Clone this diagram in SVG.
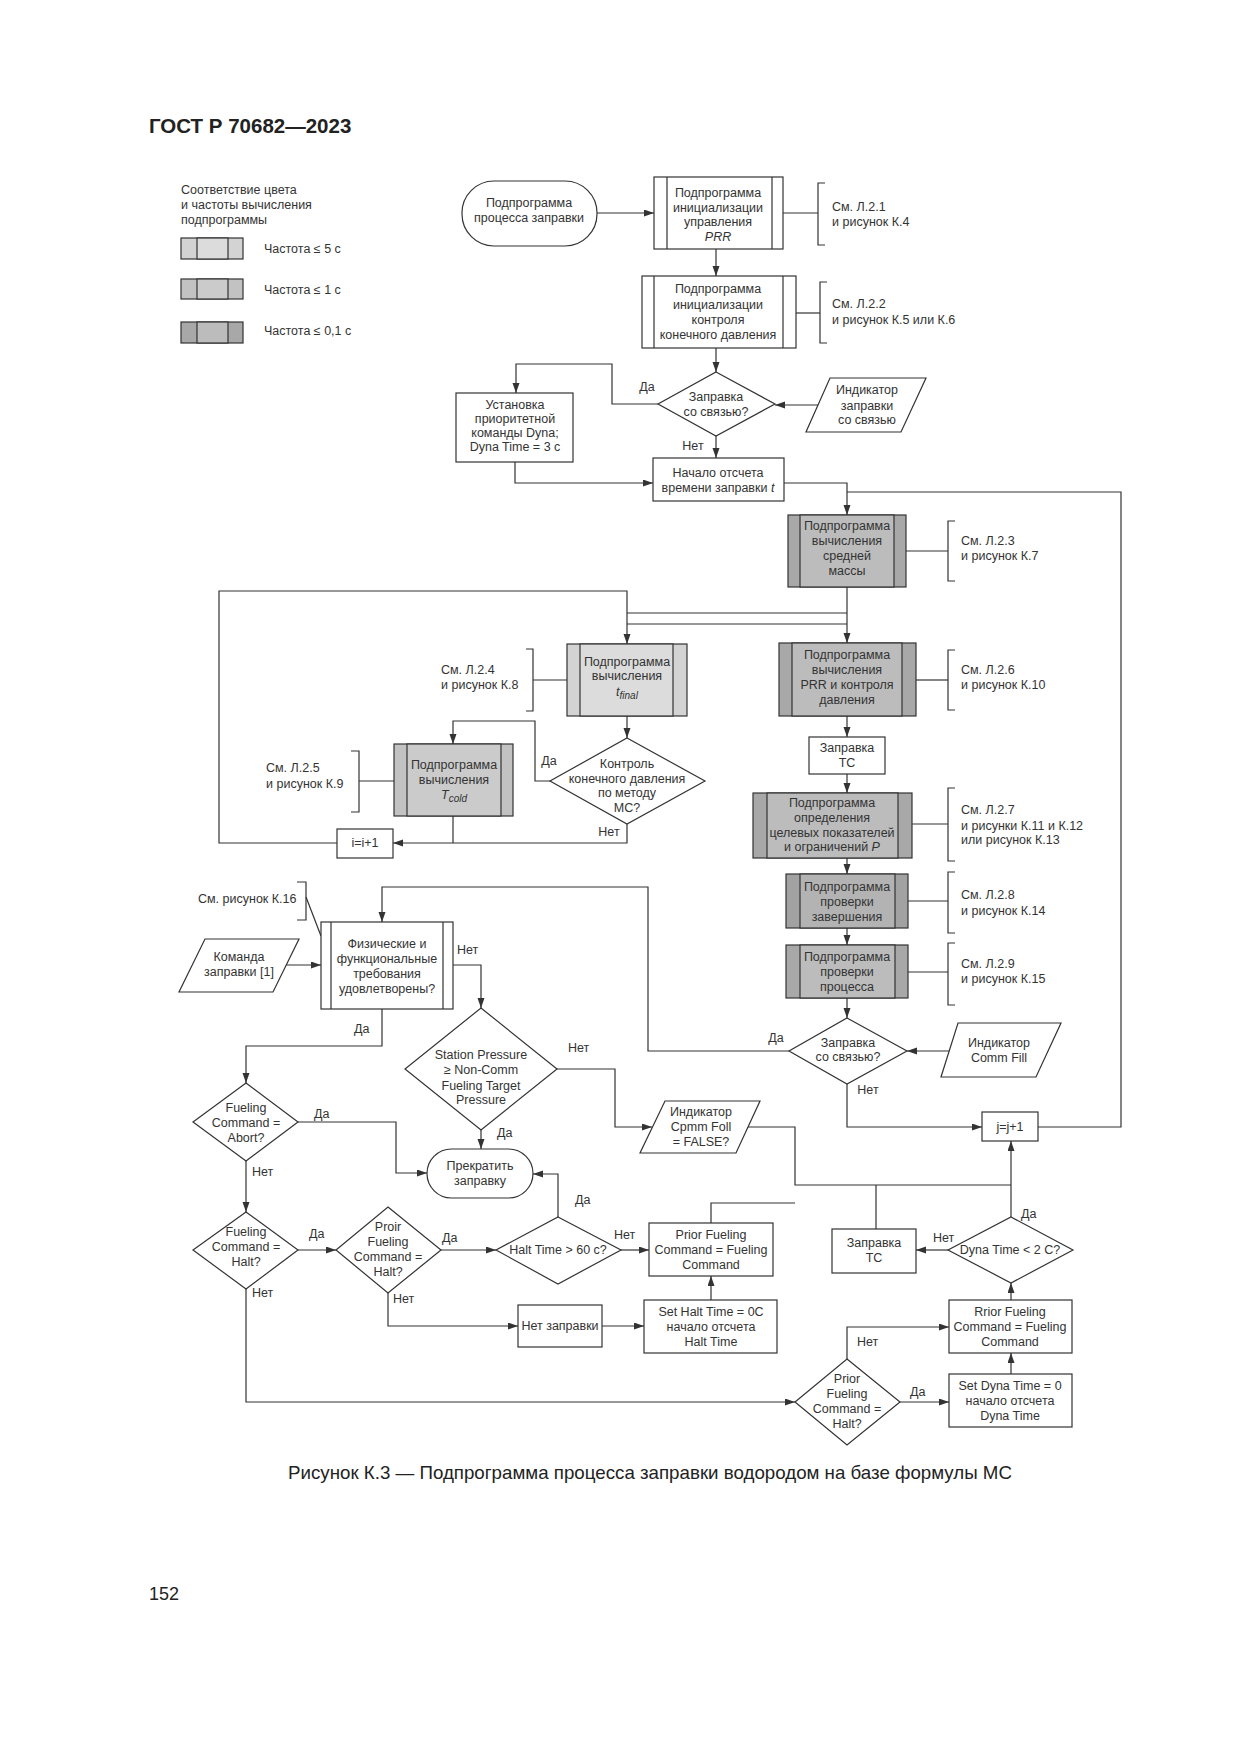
<svg xmlns="http://www.w3.org/2000/svg" width="1241" height="1754" viewBox="0 0 1241 1754">
<style>
text{font-family:"Liberation Sans",Arial,sans-serif;font-size:12.5px;fill:#333}
.c{text-anchor:middle}
.it{font-style:italic}
.ln{fill:none;stroke:#333;stroke-width:1.2}
.ar{fill:none;stroke:#333;stroke-width:1.2;marker-end:url(#ah)}
.box{fill:#fff;stroke:#333;stroke-width:1.2}
.l1s{fill:#d3d3d3;stroke:#333;stroke-width:1.2}.l1i{fill:#dcdcdc;stroke:#333;stroke-width:1.2}
.l2s{fill:#c2c2c2;stroke:#333;stroke-width:1.2}.l2i{fill:#cbcbcb;stroke:#333;stroke-width:1.2}
.l3s{fill:#a8a8a8;stroke:#333;stroke-width:1.2}.l3i{fill:#bcbcbc;stroke:#333;stroke-width:1.2}
</style>
<defs>
<marker id="ah" markerUnits="userSpaceOnUse" markerWidth="11" markerHeight="8" refX="10" refY="3.5" orient="auto"><path d="M0,0 L10,3.5 L0,7 z" fill="#333"/></marker>
</defs>
<rect width="1241" height="1754" fill="#fff"/>
<text x="149" y="133" style="font-size:20.5px;font-weight:bold;fill:#222">ГОСТ Р 70682—2023</text>

<g id="legend">
<text x="181" y="194">Соответствие цвета</text>
<text x="181" y="209">и частоты вычисления</text>
<text x="181" y="224">подпрограммы</text>
<rect class="l1s" x="181" y="238" width="62" height="21"/><rect class="l1i" x="197" y="238" width="31" height="21"/>
<text x="264" y="253">Частота ≤ 5 с</text>
<rect class="l2s" x="181" y="279" width="62" height="20"/><rect class="l2i" x="197" y="279" width="31" height="20"/>
<text x="264" y="294">Частота ≤ 1 с</text>
<rect class="l3s" x="181" y="322" width="62" height="21"/><rect class="l3i" x="197" y="322" width="31" height="21"/>
<text x="264" y="335">Частота ≤ 0,1 с</text>
</g>

<g id="connectors">
<path class="ar" d="M597,213 H654"/>
<path class="ln" d="M783,213 H818"/><path class="ln" d="M825,183 H818 V245 H825"/>
<path class="ar" d="M716,249 V276"/>
<path class="ln" d="M796,313 H820"/><path class="ln" d="M827,282 H820 V343 H827"/>
<path class="ar" d="M716,348 V372"/>
<path class="ar" d="M658,404 H612 V364 H516 V393"/>
<path class="ar" d="M818,405 H775"/>
<path class="ar" d="M716,436 V458"/>
<path class="ar" d="M515,462 V483 H653"/>
<path class="ar" d="M784,483 H847 V515"/>
<path class="ln" d="M1038,1127 H1121 V492 H847"/>
<path class="ln" d="M906,551 H948"/><path class="ln" d="M955,521 H948 V581 H955"/>
<path class="ar" d="M847,587 V643"/>
<path class="ln" d="M627,613 H847 M627,624 H847"/>
<path class="ar" d="M337,843 H219 V591 H627 V644"/>
<path class="ln" d="M567,680 H533"/><path class="ln" d="M526,649 H533 V711 H526"/>
<path class="ar" d="M627,716 V738"/>
<path class="ar" d="M550,781 H535 V721 H453 V744"/>
<path class="ln" d="M394,781 H359"/><path class="ln" d="M351,751 H359 V812 H351"/>
<path class="ln" d="M453,816 V843"/>
<path class="ar" d="M627,824 V843 H393"/>
<path class="ln" d="M916,680 H948"/><path class="ln" d="M955,650 H948 V710 H955"/>
<path class="ar" d="M847,716 V737"/>
<path class="ar" d="M847,774 V793"/>
<path class="ln" d="M912,824 H948"/><path class="ln" d="M955,788 H948 V861 H955"/>
<path class="ar" d="M847,858 V874"/>
<path class="ln" d="M908,901 H948"/><path class="ln" d="M955,872 H948 V933 H955"/>
<path class="ar" d="M847,928 V945"/>
<path class="ln" d="M908,972 H948"/><path class="ln" d="M955,943 H948 V1005 H955"/>
<path class="ar" d="M847,998 V1018"/>
<path class="ar" d="M789,1051 H648 V887 H382 V922"/>
<path class="ar" d="M950,1051 H907"/>
<path class="ar" d="M847,1084 V1127 H982"/>
<path class="ar" d="M1011,1217 V1141"/>
<path class="ln" d="M297,882 H306 V920 H297"/><path class="ln" d="M306,897 L321,936"/>
<path class="ar" d="M286,965 H321"/>
<path class="ar" d="M453,965 H481 V1008"/>
<path class="ar" d="M557,1069 H615 V1127 H652"/>
<path class="ln" d="M748,1127 H795 V1185 H1011"/>
<path class="ln" d="M711,1223 V1203 H795"/>
<path class="ln" d="M876,1229 V1185"/>
<path class="ar" d="M481,1130 V1149"/>
<path class="ar" d="M382,1009 V1046 H246 V1083"/>
<path class="ar" d="M298,1122 H396 V1173 H427"/>
<path class="ar" d="M246,1161 V1212"/>
<path class="ar" d="M298,1250 H336"/>
<path class="ar" d="M441,1250 H496"/>
<path class="ar" d="M558,1217 V1174 H533"/>
<path class="ar" d="M621,1250 H649"/>
<path class="ar" d="M388,1293 V1326 H518"/>
<path class="ar" d="M602,1326 H644"/>
<path class="ar" d="M711,1300 V1276"/>
<path class="ar" d="M246,1289 V1402 H795"/>
<path class="ar" d="M900,1402 H949"/>
<path class="ar" d="M1011,1374 V1353"/>
<path class="ar" d="M1011,1300 V1283"/>
<path class="ar" d="M847,1359 V1327 H949"/>
<path class="ar" d="M948,1250 H916"/>
</g>

<g id="labels">
<text class="c" x="647" y="391">Да</text>
<text class="c" x="693" y="450">Нет</text>
<text class="c" x="549" y="765">Да</text>
<text class="c" x="609" y="836">Нет</text>
<text class="c" x="776" y="1042">Да</text>
<text class="c" x="868" y="1094">Нет</text>
<text x="457" y="954">Нет</text>
<text x="568" y="1052">Нет</text>
<text x="497" y="1137">Да</text>
<text x="354" y="1033">Да</text>
<text x="314" y="1118">Да</text>
<text x="252" y="1176">Нет</text>
<text x="309" y="1238">Да</text>
<text x="442" y="1242">Да</text>
<text x="575" y="1204">Да</text>
<text x="614" y="1239">Нет</text>
<text x="393" y="1303">Нет</text>
<text x="252" y="1297">Нет</text>
<text x="910" y="1396">Да</text>
<text x="857" y="1346">Нет</text>
<text x="1021" y="1218">Да</text>
<text x="933" y="1242">Нет</text>
</g>

<g id="start">
<rect class="box" x="462" y="181" width="135" height="65" rx="32"/>
<text class="c" x="529" y="207">Подпрограмма</text>
<text class="c" x="529" y="222">процесса заправки</text>
</g>

<g id="init-prr">
<rect class="box" x="654" y="177" width="129" height="72"/>
<path class="ln" d="M667,177 V249 M772,177 V249"/>
<text class="c" x="718" y="197">Подпрограмма</text>
<text class="c" x="718" y="212">инициализации</text>
<text class="c" x="718" y="226">управления</text>
<text class="c it" x="718" y="241">PRR</text>
<text x="832" y="211">См. Л.2.1</text>
<text x="832" y="226">и рисунок К.4</text>
</g>

<g id="init-control">
<rect class="box" x="642" y="276" width="154" height="72"/>
<path class="ln" d="M654,276 V348 M783,276 V348"/>
<text class="c" x="718" y="293">Подпрограмма</text>
<text class="c" x="718" y="309">инициализации</text>
<text class="c" x="718" y="324">контроля</text>
<text class="c" x="718" y="339">конечного давления</text>
<text x="832" y="308">См. Л.2.2</text>
<text x="832" y="324">и рисунок К.5 или К.6</text>
</g>

<g id="dec-comm1">
<polygon class="box" points="716,372 775,404 716,436 658,404"/>
<text class="c" x="716" y="401">Заправка</text>
<text class="c" x="716" y="416">со связью?</text>
</g>

<g id="ind-comm1">
<polygon class="box" points="830,378 926,378 901,432 806,432"/>
<text class="c" x="867" y="394">Индикатор</text>
<text class="c" x="867" y="410">заправки</text>
<text class="c" x="867" y="424">со связью</text>
</g>

<g id="set-dyna">
<rect class="box" x="456" y="393" width="117" height="69"/>
<text class="c" x="515" y="409">Установка</text>
<text class="c" x="515" y="423">приоритетной</text>
<text class="c" x="515" y="437">команды Dyna;</text>
<text class="c" x="515" y="451">Dyna Time = 3 с</text>
</g>

<g id="start-time">
<rect class="box" x="653" y="458" width="131" height="43"/>
<text class="c" x="718" y="477">Начало отсчета</text>
<text class="c" x="718" y="492">времени заправки <tspan class="it">t</tspan></text>
</g>

<g id="avg-mass">
<rect class="l3s" x="788" y="515" width="118" height="72"/><rect class="l3i" x="800" y="515" width="94" height="72"/>
<text class="c" x="847" y="530">Подпрограмма</text>
<text class="c" x="847" y="545">вычисления</text>
<text class="c" x="847" y="560">средней</text>
<text class="c" x="847" y="575">массы</text>
<text x="961" y="545">См. Л.2.3</text>
<text x="961" y="560">и рисунок К.7</text>
</g>

<g id="tfinal">
<rect class="l1s" x="567" y="644" width="120" height="72"/><rect class="l1i" x="580" y="644" width="93" height="72"/>
<text class="c" x="627" y="666">Подпрограмма</text>
<text class="c" x="627" y="680">вычисления</text>
<text class="c" x="627" y="696"><tspan class="it">t</tspan><tspan class="it" dy="3" style="font-size:10px">final</tspan></text>
<text x="441" y="674">См. Л.2.4</text>
<text x="441" y="689">и рисунок К.8</text>
</g>

<g id="dec-mc">
<polygon class="box" points="627,738 705,781 627,824 550,781"/>
<text class="c" x="627" y="768">Контроль</text>
<text class="c" x="627" y="783">конечного давления</text>
<text class="c" x="627" y="797">по методу</text>
<text class="c" x="627" y="812">МС?</text>
</g>

<g id="tcold">
<rect class="l2s" x="394" y="744" width="119" height="72"/><rect class="l2i" x="407" y="744" width="94" height="72"/>
<text class="c" x="454" y="769">Подпрограмма</text>
<text class="c" x="454" y="784">вычисления</text>
<text class="c" x="454" y="799"><tspan class="it">T</tspan><tspan class="it" dy="3" style="font-size:10px">cold</tspan></text>
<text x="266" y="772">См. Л.2.5</text>
<text x="266" y="788">и рисунок К.9</text>
</g>

<g id="inc-i">
<rect class="box" x="337" y="829" width="56" height="29"/>
<text class="c" x="365" y="847">i=i+1</text>
</g>

<g id="prr-control">
<rect class="l3s" x="779" y="643" width="137" height="73"/><rect class="l3i" x="792" y="643" width="110" height="73"/>
<text class="c" x="847" y="659">Подпрограмма</text>
<text class="c" x="847" y="674">вычисления</text>
<text class="c" x="847" y="689">PRR и контроля</text>
<text class="c" x="847" y="704">давления</text>
<text x="961" y="674">См. Л.2.6</text>
<text x="961" y="689">и рисунок К.10</text>
</g>

<g id="fill-tc1">
<rect class="box" x="809" y="737" width="76" height="37"/>
<text class="c" x="847" y="752">Заправка</text>
<text class="c" x="847" y="767">ТС</text>
</g>

<g id="targets">
<rect class="l3s" x="753" y="793" width="159" height="65"/><rect class="l3i" x="767" y="793" width="131" height="65"/>
<text class="c" x="832" y="807">Подпрограмма</text>
<text class="c" x="832" y="822">определения</text>
<text class="c" x="832" y="837">целевых показателей</text>
<text class="c" x="832" y="851">и ограничений <tspan class="it">P</tspan></text>
<text x="961" y="814">См. Л.2.7</text>
<text x="961" y="830">и рисунки К.11 и К.12</text>
<text x="961" y="844">или рисунок К.13</text>
</g>

<g id="check-end">
<rect class="l3s" x="786" y="874" width="122" height="54" style="fill:#a2a2a2"/><rect class="l3i" x="800" y="874" width="95" height="54" style="fill:#b3b3b3"/>
<text class="c" x="847" y="891">Подпрограмма</text>
<text class="c" x="847" y="906">проверки</text>
<text class="c" x="847" y="921">завершения</text>
<text x="961" y="899">См. Л.2.8</text>
<text x="961" y="915">и рисунок К.14</text>
</g>

<g id="check-proc">
<rect class="l3s" x="786" y="945" width="122" height="53"/><rect class="l3i" x="800" y="945" width="95" height="53"/>
<text class="c" x="847" y="961">Подпрограмма</text>
<text class="c" x="847" y="976">проверки</text>
<text class="c" x="847" y="991">процесса</text>
<text x="961" y="968">См. Л.2.9</text>
<text x="961" y="983">и рисунок К.15</text>
</g>

<g id="dec-comm2">
<polygon class="box" points="847,1018 907,1051 847,1084 789,1051"/>
<text class="c" x="848" y="1047">Заправка</text>
<text class="c" x="848" y="1061">со связью?</text>
</g>

<g id="ind-commfill">
<polygon class="box" points="958,1023 1061,1023 1036,1077 941,1077"/>
<text class="c" x="999" y="1047">Индикатор</text>
<text class="c" x="999" y="1062">Comm Fill</text>
</g>

<g id="inc-j">
<rect class="box" x="982" y="1112" width="56" height="29"/>
<text class="c" x="1010" y="1131">j=j+1</text>
</g>

<g id="phys">
<rect class="box" x="321" y="922" width="132" height="87"/>
<path class="ln" d="M331,922 V1009 M443,922 V1009"/>
<text class="c" x="387" y="948">Физические и</text>
<text class="c" x="387" y="963">функциональные</text>
<text class="c" x="387" y="978">требования</text>
<text class="c" x="387" y="993">удовлетворены?</text>
<text x="198" y="903">См. рисунок К.16</text>
</g>

<g id="cmd">
<polygon class="box" points="205,939 299,939 273,992 179,992"/>
<text class="c" x="239" y="961">Команда</text>
<text class="c" x="239" y="976">заправки [1]</text>
</g>

<g id="dec-station">
<polygon class="box" points="481,1008 557,1069 481,1130 405,1069"/>
<text class="c" x="481" y="1059">Station Pressure</text>
<text class="c" x="481" y="1074">≥ Non-Comm</text>
<text class="c" x="481" y="1090">Fueling Target</text>
<text class="c" x="481" y="1104">Pressure</text>
</g>

<g id="ind-cpmm">
<polygon class="box" points="665,1101 760,1101 736,1153 640,1153"/>
<text class="c" x="701" y="1116">Индикатор</text>
<text class="c" x="701" y="1131">Cpmm Foll</text>
<text class="c" x="701" y="1146">= FALSE?</text>
</g>

<g id="stop">
<rect class="box" x="427" y="1149" width="106" height="49" rx="24.5"/>
<text class="c" x="480" y="1170">Прекратить</text>
<text class="c" x="480" y="1185">заправку</text>
</g>

<g id="dec-abort">
<polygon class="box" points="246,1083 298,1122 246,1161 193,1122"/>
<text class="c" x="246" y="1112">Fueling</text>
<text class="c" x="246" y="1127">Command =</text>
<text class="c" x="246" y="1142">Abort?</text>
</g>

<g id="dec-halt">
<polygon class="box" points="246,1212 298,1250 246,1289 193,1250"/>
<text class="c" x="246" y="1236">Fueling</text>
<text class="c" x="246" y="1251">Command =</text>
<text class="c" x="246" y="1266">Halt?</text>
</g>

<g id="dec-proir">
<polygon class="box" points="388,1207 441,1250 388,1293 336,1250"/>
<text class="c" x="388" y="1231">Proir</text>
<text class="c" x="388" y="1246">Fueling</text>
<text class="c" x="388" y="1261">Command =</text>
<text class="c" x="388" y="1276">Halt?</text>
</g>

<g id="dec-halttime">
<polygon class="box" points="558,1217 621,1250 558,1284 496,1250"/>
<text class="c" x="558" y="1254">Halt Time &gt; 60 с?</text>
</g>

<g id="prior-cmd1">
<rect class="box" x="649" y="1223" width="124" height="53"/>
<text class="c" x="711" y="1239">Prior Fueling</text>
<text class="c" x="711" y="1254">Command = Fueling</text>
<text class="c" x="711" y="1269">Command</text>
</g>

<g id="no-fill">
<rect class="box" x="518" y="1305" width="84" height="42"/>
<text class="c" x="560" y="1330">Нет заправки</text>
</g>

<g id="set-halt">
<rect class="box" x="644" y="1300" width="133" height="53"/>
<text class="c" x="711" y="1316">Set Halt Time = 0C</text>
<text class="c" x="711" y="1331">начало отсчета</text>
<text class="c" x="711" y="1346">Halt Time</text>
</g>

<g id="fill-tc2">
<rect class="box" x="832" y="1229" width="84" height="44"/>
<text class="c" x="874" y="1247">Заправка</text>
<text class="c" x="874" y="1262">ТС</text>
</g>

<g id="dec-dyna">
<polygon class="box" points="1011,1217 1073,1250 1011,1283 948,1250"/>
<text class="c" x="1010" y="1254">Dyna Time &lt; 2 С?</text>
</g>

<g id="rrior-cmd">
<rect class="box" x="949" y="1300" width="123" height="53"/>
<text class="c" x="1010" y="1316">Rrior Fueling</text>
<text class="c" x="1010" y="1331">Command = Fueling</text>
<text class="c" x="1010" y="1346">Command</text>
</g>

<g id="set-dyna0">
<rect class="box" x="949" y="1374" width="123" height="53"/>
<text class="c" x="1010" y="1390">Set Dyna Time = 0</text>
<text class="c" x="1010" y="1405">начало отсчета</text>
<text class="c" x="1010" y="1420">Dyna Time</text>
</g>

<g id="dec-prior2">
<polygon class="box" points="847,1359 900,1402 847,1445 795,1402"/>
<text class="c" x="847" y="1383">Prior</text>
<text class="c" x="847" y="1398">Fueling</text>
<text class="c" x="847" y="1413">Command =</text>
<text class="c" x="847" y="1428">Halt?</text>
</g>

<text x="288" y="1479" style="font-size:19px;fill:#222" textLength="724" lengthAdjust="spacingAndGlyphs">Рисунок К.3 — Подпрограмма процесса заправки водородом на базе формулы МС</text>
<text x="149" y="1600" style="font-size:18px;fill:#222">152</text>
</svg>
